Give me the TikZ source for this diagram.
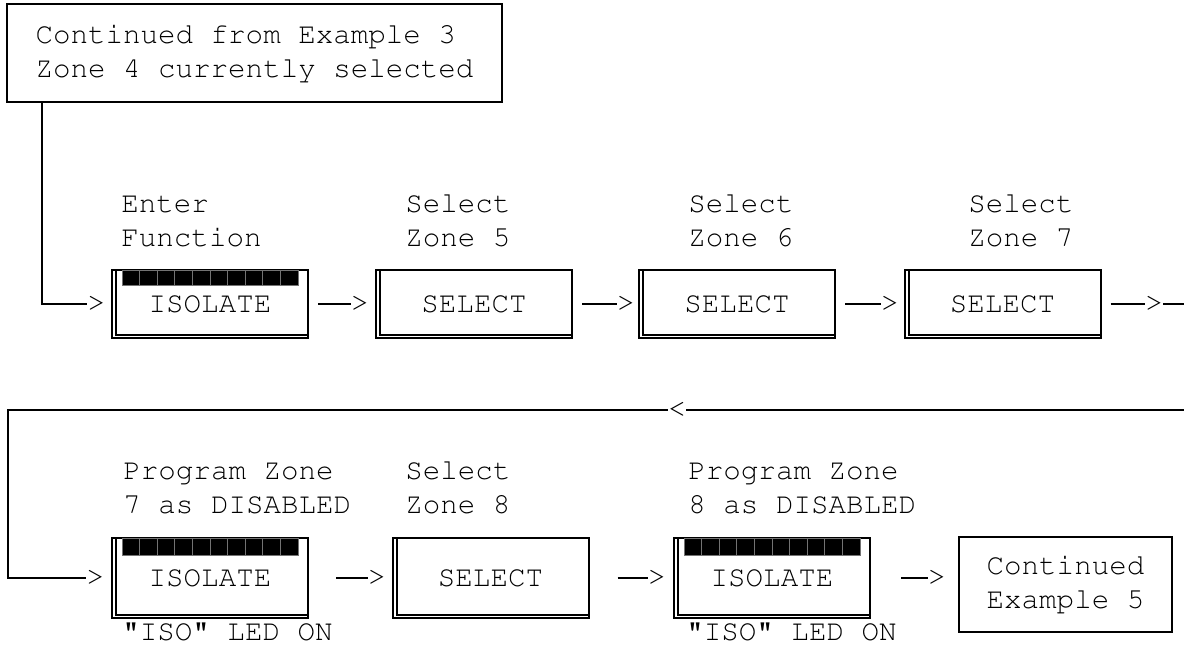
\documentclass[tikz,border=0pt]{standalone}
\usepackage[T1]{fontenc}
\usepackage{courier}

\begin{document}
\begin{tikzpicture}[
  x=0.5pt,
  y=-0.5pt,
  every node/.style={font=\fontsize{14.6pt}{17pt}\selectfont\ttfamily},
  frame/.style={draw=black, line width=1pt},
  notebox/.style={frame, align=left, inner sep=0pt},
  keybox/.style={frame, inner sep=0pt, minimum width=98pt, minimum height=34pt},
  caption/.style={align=left, inner sep=0pt, anchor=base west},
  ledtext/.style={inner sep=0pt, anchor=base west},
  tip/.style={inner sep=0pt},
  link/.style={draw=black, line width=1pt},
  ledblock/.style={fill=black, draw=black!55, line width=0.4pt}
]
  \useasboundingbox (0,0) rectangle (1184,649);

  % entry note
  \node[notebox, minimum width=247.5pt, minimum height=49pt] (cont3) at (254.5,53)
    {Continued from Example 3\\Zone 4 currently selected};

  % first row of keys
  \node[keybox] (iso1) at (210,304) {ISOLATE\hspace{7pt}};
  \node[keybox] (sel5) at (474,304) {SELECT};
  \node[keybox] (sel6) at (737,304) {SELECT};
  \node[keybox] (sel7) at (1002.5,304) {SELECT};

  \node[caption] (capiso1) at (121,246) {Enter\\Function};
  \node[caption] (capsel5) at (405,246) {Select\\Zone 5};
  \node[caption] (capsel6) at (688,246) {Select\\Zone 6};
  \node[caption] (capsel7) at (968,246) {Select\\Zone 7};

  \node[tip] (tip1) at (96.5,304) {>};
  \node[tip] (tip2) at (360,304) {>};
  \node[tip] (tip3) at (626,304) {>};
  \node[tip] (tip4) at (890,304) {>};
  \node[tip] (tip5) at (1154,304) {>};
  \coordinate (wrapR1) at (1184,304);

  \draw[link] (cont3.south west) ++(36,0) |- (tip1.west);
  \draw[link, shorten <=4.5pt] (iso1) -- (tip2);
  \draw[link, shorten <=4.5pt] (sel5) -- (tip3);
  \draw[link, shorten <=4.5pt] (sel6) -- (tip4);
  \draw[link, shorten <=4.5pt] (sel7) -- (tip5);
  \draw[link] (tip5) -- (wrapR1);

  % return line
  \node[tip] (back) at (677,410) {<};
  \coordinate (wrapR2) at (1184,410);
  \coordinate (wrapL) at (8,410);
  \draw[link] (wrapR2) -- (back);

  % second row of keys
  \node[keybox, minimum height=40pt] (iso2) at (210,578) {ISOLATE\hspace{7pt}};
  \node[keybox, minimum height=40pt] (sel8) at (490.5,578) {SELECT};
  \node[keybox, minimum height=40pt] (iso3) at (772,578) {ISOLATE\hspace{7pt}};
  \node[notebox, minimum width=106.5pt, minimum height=47.5pt] (cont5) at (1065.5,584.5)
    {Continued\\Example 5};

  \node[caption] (capiso2) at (123,513) {Program Zone\\7 as DISABLED};
  \node[caption] (capsel8) at (405,513) {Select\\Zone 8};
  \node[caption] (capiso3) at (688,513) {Program Zone\\8 as DISABLED};
  \node[ledtext] (lediso2) at (122,640) {"ISO" LED ON};
  \node[ledtext] (lediso3) at (686,640) {"ISO" LED ON};

  \node[tip] (tip6) at (95.5,578) {>};
  \node[tip] (tip7) at (377,578) {>};
  \node[tip] (tip8) at (657,578) {>};
  \node[tip] (tip9) at (937,578) {>};

  \draw[link] (back) -- (wrapL) |- (tip6);
  \draw[link, shorten <=13.5pt] (iso2) -- (tip7);
  \draw[link, shorten <=14pt] (sel8) -- (tip8);
  \draw[link, shorten <=15pt] (iso3) -- (tip9);

  % double edge on keys
  \foreach \k in {iso1,sel5,sel6,sel7,iso2,sel8,iso3} {
    \draw[frame] ([xshift=2.5pt]\k.north west) |- ([yshift=2pt]\k.south east);
  }
  % lit segments
  \foreach \k/\h in {iso1/15,iso2/17,iso3/17} {
    \foreach \i in {0,...,9} {
      \draw[ledblock] ([xshift=5.5pt+\i*8.8pt, yshift=-0.5pt]\k.north west) rectangle ++(17.6,\h);
    }
  }
\end{tikzpicture}
\end{document}
